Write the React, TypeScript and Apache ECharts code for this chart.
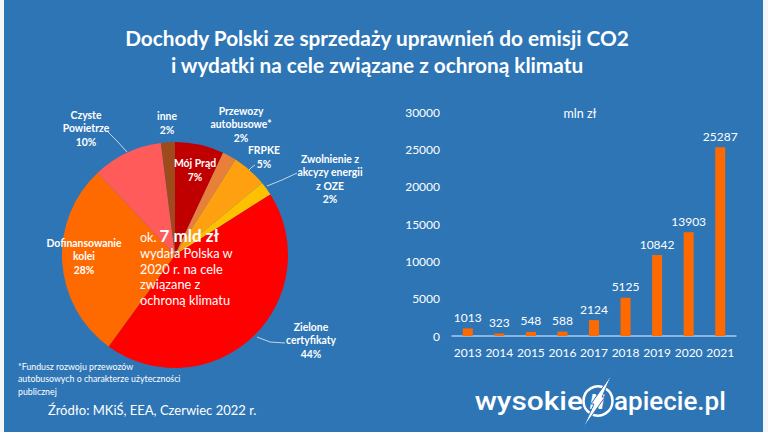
import React, { useEffect, useRef } from "react";
import * as echarts from "echarts";

// ---- Pie data (2020 climate-related spending, % share) ----
const sliceNames = [
  "Mój Prąd",
  "Przewozy\nautobusowe*",
  "FRPKE",
  "Zwolnienie z\nakcyzy energii\nz OZE",
  "Zielone\ncertyfikaty",
  "Dofinansowanie\nkolei",
  "Czyste\nPowietrze",
  "inne",
];
const slicePercents = [7, 2, 5, 2, 44, 28, 10, 2];

// ---- Bar data (revenues from CO2 allowances, mln zł) ----
const years = ["2013", "2014", "2015", "2016", "2017", "2018", "2019", "2020", "2021"];
const revenues = [1013, 323, 548, 588, 2124, 5125, 10842, 13903, 25287];
const yMin = 0;
const yMax = 30000;
const yStep = 5000;

// ---- Styles ----
const sliceColors = ["#C00000", "#E8803A", "#FFA010", "#FFC000", "#FF0000", "#FF6A00", "#FF5B5B", "#9E4A1C"];
const labelPos: number[][] = [
  [195, 170],
  [241, 124],
  [264, 157],
  [330, 179],
  [311, 340],
  [84, 256],
  [86, 128],
  [167, 123],
];
const linePts: (number[][] | null)[] = [
  null,
  null,
  [[249, 170], [252, 167], [255, 165]],
  [[267, 186], [282, 180], [297, 173]],
  [[257, 337], [270, 342], [285, 343]],
  null,
  [[127, 152], [117, 141], [107, 131]],
  null,
];

const FONT = "Lato";

export default function App() {
  const ref = useRef<HTMLDivElement>(null);
  useEffect(() => {
    if (!ref.current) return;
    const chart = echarts.init(ref.current, undefined, { renderer: "svg" });
    const option: any = {
      animation: false,
      backgroundColor: "#2E75B6",
      textStyle: { fontFamily: FONT },
      grid: { left: 452, right: 32, top: 112, bottom: 96 },
      xAxis: {
        type: "category",
        data: years,
        axisLine: { lineStyle: { color: "#A9C8EA", width: 1.5 } },
        axisTick: { show: false },
        axisLabel: { color: "#FFFFFF", fontSize: 12, margin: 10, fontFamily: FONT, interval: 0 },
      },
      yAxis: {
        type: "value",
        min: yMin,
        max: yMax,
        interval: yStep,
        axisLine: { show: false },
        axisTick: { show: false },
        splitLine: { show: false },
        axisLabel: { color: "#FFFFFF", fontSize: 12, margin: 12, fontFamily: FONT, formatter: (v: number) => String(v) },
      },
      series: [
        {
          type: "bar",
          data: revenues,
          barWidth: 10,
          itemStyle: { color: "#FF6A00" },
          label: { show: true, position: "top", color: "#FFFFFF", fontSize: 12, fontFamily: FONT, distance: 5 },
        },
        {
          type: "pie",
          center: [175, 255],
          radius: 113,
          startAngle: 90,
          clockwise: true,
          avoidLabelOverlap: false,
          z: 2,
          data: sliceNames.map((n, i) => ({
            name: n,
            value: slicePercents[i],
            itemStyle: { color: sliceColors[i] },
            labelLine: { show: !!linePts[i] },
          })),
          label: {
            show: true,
            formatter: "{b}\n{c}%",
            color: "#FFFFFF",
            fontSize: 10.4,
            fontWeight: "bold",
            lineHeight: 13.5,
            align: "center",
            fontFamily: FONT,
          },
          labelLine: { show: true, lineStyle: { color: "#C8D3E0", width: 1 } },
          labelLayout: (params: any) => {
            const i = params.dataIndex;
            const p = labelPos[i];
            const res: any = { x: p[0], y: p[1], align: "center", verticalAlign: "middle" };
            if (linePts[i]) res.labelLinePoints = linePts[i];
            return res;
          },
        },
      ],
      graphic: [
        { type: "rect", z: 100, shape: { x: 0, y: 0, width: 4, height: 432 }, style: { fill: "#F4F6F8" } },
        { type: "rect", z: 100, shape: { x: 763, y: 0, width: 5, height: 432 }, style: { fill: "#F4F6F8" } },
        {
          type: "text",
          z: 100,
          x: 377,
          y: 51,
          style: {
            text: "Dochody Polski ze sprzedaży uprawnień do emisji CO2\ni wydatki na cele związane z ochroną klimatu",
            fill: "#FFFFFF",
            fontSize: 20.8,
            fontWeight: "bold",
            fontFamily: FONT,
            lineHeight: 27,
            align: "center",
            verticalAlign: "middle",
          },
        },
        {
          type: "text",
          z: 100,
          x: 580,
          y: 113,
          style: { text: "mln zł", fill: "#FFFFFF", fontSize: 12.5, fontFamily: FONT, align: "center", verticalAlign: "middle" },
        },
        {
          type: "text",
          z: 100,
          x: 140,
          y: 244,
          style: {
            text: "{a|ok. }{b|7 mld zł}",
            fill: "#FFFFFF",
            fontFamily: FONT,
            align: "left",
            verticalAlign: "bottom",
            rich: {
              a: { fontSize: 12.5, fill: "#FFFFFF", fontFamily: FONT, verticalAlign: "bottom", lineHeight: 18 },
              b: { fontSize: 17, fontWeight: "bold", fill: "#FFFFFF", fontFamily: FONT, verticalAlign: "bottom", lineHeight: 18 },
            },
          },
        },
        {
          type: "text",
          z: 100,
          x: 140,
          y: 245,
          style: {
            text: "wydała Polska w\n2020 r. na cele\nzwiązane z\nochroną klimatu",
            fill: "#FFFFFF",
            fontSize: 12.8,
            fontFamily: FONT,
            lineHeight: 15.7,
            align: "left",
            verticalAlign: "top",
          },
        },
        {
          type: "text",
          z: 100,
          x: 18,
          y: 360,
          style: {
            text: "*Fundusz rozwoju przewozów\nautobusowych o charakterze użyteczności\npublicznej",
            fill: "#FFFFFF",
            fontSize: 8.8,
            fontFamily: FONT,
            lineHeight: 12.5,
            align: "left",
            verticalAlign: "top",
          },
        },
        {
          type: "text",
          z: 100,
          x: 48,
          y: 410,
          style: {
            text: "Źródło: MKiŚ, EEA, Czerwiec 2022 r.",
            fill: "#FFFFFF",
            fontSize: 13,
            fontFamily: FONT,
            align: "left",
            verticalAlign: "middle",
          },
        },
        // logo
        {
          type: "text",
          z: 100,
          x: 583,
          y: 401,
          scaleX: 1.15,
          style: { text: "wysokie", fill: "#FFFFFF", fontSize: 26, fontWeight: 500, fontFamily: "Roboto", align: "right", verticalAlign: "middle" },
        },
        {
          type: "circle",
          z: 100,
          shape: { cx: 598, cy: 401, r: 14.5 },
          style: { fill: "none", stroke: "#FFFFFF", lineWidth: 2.5 },
        },
        {
          type: "text",
          z: 101,
          x: 597,
          y: 402,
          style: { text: "N", fill: "#FFFFFF", fontSize: 21, fontWeight: "bold", fontStyle: "italic", fontFamily: "Roboto", align: "center", verticalAlign: "middle" },
        },
        {
          type: "polygon",
          z: 101,
          shape: { points: [[612, 374], [602, 397], [605, 397], [583, 428], [594, 404], [591, 404]] },
          style: { fill: "#FFFFFF", stroke: "#2E75B6", lineWidth: 1 },
        },
        {
          type: "text",
          z: 100,
          x: 614,
          y: 401,
          style: { text: "apiecie.pl", fill: "#FFFFFF", fontSize: 26, fontWeight: 500, fontFamily: "Roboto", align: "left", verticalAlign: "middle" },
        },
      ],
    };
    chart.setOption(option);
    return () => chart.dispose();
  }, []);
  return <div ref={ref} style={{ position: "fixed", left: 0, top: 0, width: 768, height: 432 }} />;
}
